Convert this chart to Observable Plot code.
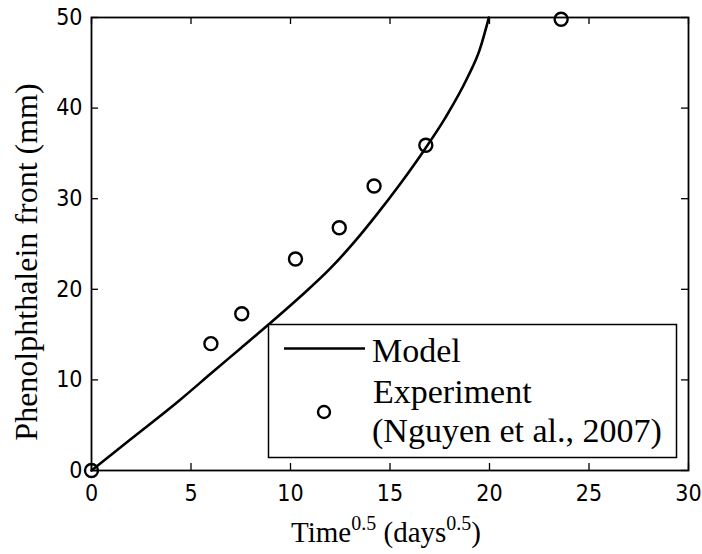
<!DOCTYPE html>
<html>
<head>
<meta charset="utf-8">
<script src="https://cdn.jsdelivr.net/npm/d3@7"></script>
<script src="https://cdn.jsdelivr.net/npm/@observablehq/plot@0.6"></script>
<style>
  html, body { margin: 0; padding: 0; background: #fff; }
  #chart svg { display: block; }
  #chart svg text.serif, #chart svg text.serif tspan { font-family: "Liberation Serif", serif !important; }
</style>
</head>
<body>
<div id="chart"></div>
<script>
// Model curve
const modelX = [0, 2, 4.4, 6, 7.5, 9, 10.5, 12, 13.2, 14.35, 15.5, 16.7, 17.8, 18.9, 19.5, 19.97];
const modelY = [0, 3.5, 7.7, 10.7, 13.5, 16.3, 19.2, 22.3, 25.2, 28.3, 31.6, 35.3, 39.0, 43.4, 46.4, 50];
// Experiment (Nguyen et al., 2007)
const expX = [0, 6.0, 7.55, 10.25, 12.45, 14.2, 16.8, 23.6];
const expY = [0, 14.0, 17.3, 23.35, 26.8, 31.4, 35.9, 49.8];
// Tick values
const xTicks = [0, 5, 10, 15, 20, 25, 30];
const yTicks = [0, 10, 20, 30, 40, 50];

const model = modelX.map((x, i) => ({x, y: modelY[i]}));
const expt = expX.map((x, i) => ({x, y: expY[i]}));

const W = 702, H = 554;
const mL = 91, mR = 14, mT = 17, mB = 84;
const plotW = W - mL - mR, plotH = H - mT - mB;
const tickLen = 7;
const tickFont = '"DejaVu Sans Condensed", "Liberation Sans Narrow", "Arial Narrow", sans-serif';

const chart = Plot.plot({
  width: W,
  height: H,
  marginLeft: mL,
  marginRight: mR,
  marginTop: mT,
  marginBottom: mB,
  style: {background: "#fff", color: "#000", fontFamily: tickFont, fontSize: "23px"},
  x: {domain: [0, 30], ticks: xTicks},
  y: {domain: [0, 50], ticks: yTicks},
  marks: [
    // inward tick marks on all four sides
    Plot.ruleX(xTicks, {stroke: "#000", strokeWidth: 1.3, insetTop: plotH - tickLen}),
    Plot.ruleX(xTicks, {stroke: "#000", strokeWidth: 1.3, insetBottom: plotH - tickLen}),
    Plot.ruleY(yTicks, {stroke: "#000", strokeWidth: 1.3, insetRight: plotW - tickLen}),
    Plot.ruleY(yTicks, {stroke: "#000", strokeWidth: 1.3, insetLeft: plotW - tickLen}),
    Plot.frame({stroke: "#000", strokeWidth: 1.8}),
    Plot.axisX(xTicks, {tickSize: 0, tickPadding: 14, label: null, fontSize: 23}),
    Plot.axisY(yTicks, {tickSize: 0, tickPadding: 9, label: null, fontSize: 23}),
    Plot.line(model, {x: "x", y: "y", stroke: "#000", strokeWidth: 2.6, curve: "monotone-x"}),
    Plot.dot(expt, {x: "x", y: "y", r: 6.5, stroke: "#000", strokeWidth: 2.4, fill: "none"})
  ]
});

document.getElementById("chart").appendChild(chart);

const svg = d3.select(chart);

// X axis label with superscripts
const xl = svg.append("text")
  .attr("class", "serif")
  .attr("x", 386).attr("y", 542)
  .style("text-anchor", "middle")
  .style("font-size", "29px")
  .attr("fill", "#000");
xl.append("tspan").text("Time");
xl.append("tspan").attr("dy", -12).style("font-size", "20px").text("0.5");
xl.append("tspan").attr("dy", 12).text(" (days");
xl.append("tspan").attr("dy", -12).style("font-size", "20px").text("0.5");
xl.append("tspan").attr("dy", 12).text(")");

// Y axis label
svg.append("text")
  .attr("class", "serif")
  .attr("transform", "translate(37,262) rotate(-90)")
  .style("text-anchor", "middle")
  .style("font-size", "32px")
  .attr("fill", "#000")
  .text("Phenolphthalein front (mm)");

// Legend
const lg = svg.append("g");
lg.append("rect")
  .attr("x", 268.5).attr("y", 324.5)
  .attr("width", 408).attr("height", 133)
  .attr("fill", "#fff").attr("stroke", "#000").attr("stroke-width", 1.5);
lg.append("line")
  .attr("x1", 284).attr("x2", 365).attr("y1", 348.5).attr("y2", 348.5)
  .attr("stroke", "#000").attr("stroke-width", 2.6);
lg.append("circle")
  .attr("cx", 324).attr("cy", 412).attr("r", 6)
  .attr("fill", "none").attr("stroke", "#000").attr("stroke-width", 2.4);
const lt = (x, y, s) => lg.append("text")
  .attr("class", "serif")
  .attr("x", x).attr("y", y)
  .style("text-anchor", "start")
  .style("font-size", "34px")
  .attr("fill", "#000").text(s);
lt(372, 362, "Model");
lt(373, 403, "Experiment");
lt(372, 442, "(Nguyen et al., 2007)");
</script>
</body>
</html>
